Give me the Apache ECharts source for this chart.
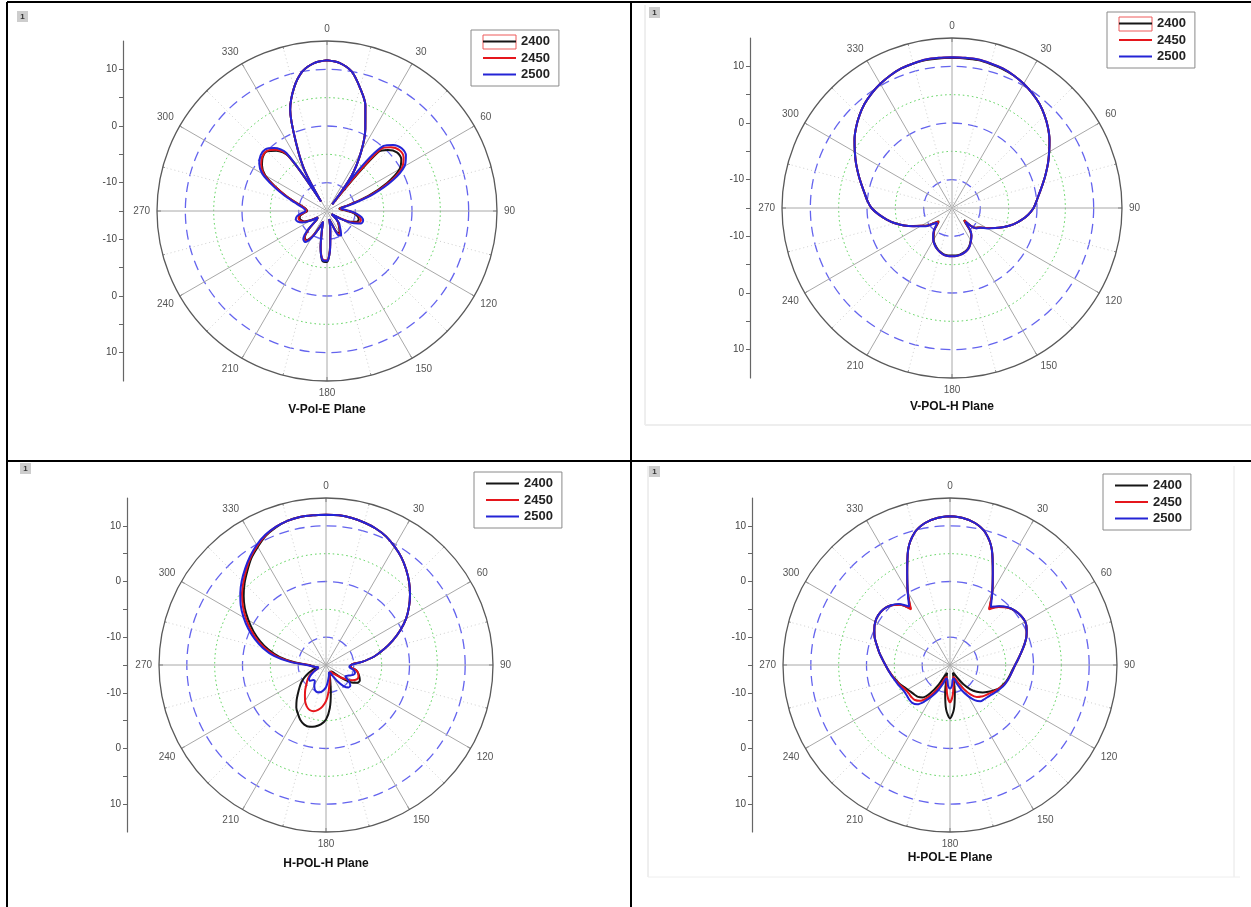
<!DOCTYPE html>
<html><head><meta charset="utf-8">
<script src="https://cdn.jsdelivr.net/npm/echarts@6/dist/echarts.min.js"></script>
<style>html,body{margin:0;padding:0;background:#fff}#c{width:1251px;height:907px}</style>
</head><body><div id="c"></div>
<script>
// ---------- data ----------
const seriesNames = ['2400', '2450', '2500'];
const angleTicks = [0, 30, 60, 90, 120, 150, 180, 210, 240, 270, 300, 330];
const radialLabels = [-10, 0, 10];

// V-Pol-E plane
const anglesVE = [0,5,10,15,20,25,30,35,38,41,45,50,55,60,65,70,75,80,85,90,95,100,105,110,115,120,125,130,135,140,145,150,155,160,165,170,175,180,185,190,195,200,205,210,215,220,225,230,235,240,245,250,255,260,265,270,275,280,285,290,295,300,305,310,315,320,325,328,331,335,340,345,350,355,360];
const ve2500 = [11.6,11.2,10.0,7.5,4.8,1.0,-3.0,-7.5, -13.5,0.2,
  1.5,2.2,2.0,0.8,-2.2,-6.3,-10.5,-12.5,-12.0,-11.0,
  -9.8,-8.8,-8.4,-8.6,-10.0,-12.5,-14.0,-13.0,-12.0,-11.5,
  -10.8,-10.0,-10.3,-12.5,-13.5,-11.5,-8.5,-6.2,-6.3,-8.5,
  -11.5,-13.0,-11.5,-9.5,-8.3,-8.5,-10.0,-12.5,-13.0,-11.5,
  -10.2,-9.5,-9.3,-9.6,-10.5,-11.2,-11.0,-10.3,-9.0,-7.0,
  -4.5,-1.8,-0.4,0.3,0.4,-0.5,-2.5, -13.0,-7.0,
  -2.5,4.0,7.5,10.0,11.2,11.6];
const ve2450 = [11.6,11.2,10.0,7.5,4.8,1.0,-3.0,-7.5, -13.5,-0.5,
  0.9,1.7,1.5,0.3,-2.7,-6.8,-11.0,-12.7,-12.2,-11.2,
  -10.0,-9.2,-8.8,-9.0,-10.3,-12.6,-14.0,-13.0,-12.2,-11.7,
  -11.0,-10.3,-10.6,-12.6,-13.5,-11.6,-8.6,-6.3,-6.4,-8.6,
  -11.6,-13.0,-11.6,-9.7,-8.6,-8.8,-10.3,-12.6,-13.0,-11.7,
  -10.5,-10.0,-9.8,-10.0,-10.8,-11.4,-11.2,-10.6,-9.3,-7.3,
  -4.9,-2.2,-0.8,-0.1,0.0,-0.9,-3.0, -13.0,-7.0,
  -2.5,4.0,7.5,10.0,11.2,11.6];
const ve2400 = [11.6,11.2,10.0,7.5,4.8,1.0,-3.0,-7.5, -13.5,-1.2,
  0.2,1.1,1.0,-0.2,-3.3,-7.3,-11.3,-12.8,-12.3,-11.4,
  -10.2,-9.5,-9.2,-9.4,-10.5,-12.7,-14.0,-13.0,-12.3,-11.8,
  -11.2,-10.5,-10.8,-12.7,-13.5,-11.8,-8.8,-6.0,-6.1,-8.5,
  -11.6,-13.0,-11.7,-9.8,-8.7,-8.9,-10.4,-12.7,-13.0,-11.8,
  -10.6,-10.2,-10.0,-10.2,-10.9,-11.5,-11.3,-10.7,-9.4,-7.4,
  -5.0,-2.4,-1.0,-0.2,-0.1,-1.1,-3.2, -13.0,-7.0,
  -2.5,4.0,7.5,10.0,11.2,11.6];

// V-POL-H plane
const anglesVH = [0,5,10,15,20,25,30,35,40,45,50,55,60,65,70,75,80,85,90,95,100,105,110,115,120,125,130,135,138,141,145,150,155,160,165,170,175,180,185,190,195,200,205,210,215,219,222,225,230,235,240,245,250,255,260,265,270,275,280,285,290,295,300,305,310,315,320,325,330,335,340,345,350,355,360];
const vh2500 = [11.6,11.6,11.6,11.4,11.2,10.8,10.3,9.7,9.0,8.1,
  7.1,6.0,4.8,3.7,2.6,1.6,0.7,0.0,-0.6,-1.5,
  -2.6,-3.8,-5.2,-6.6,-7.8,-8.9,-9.4,-11.6, -11.0,-9.8,
  -9.0,-8.3,-7.6,-7.1,-6.8,-6.6,-6.5,-6.5,-6.5,-6.6,-6.9,-7.3,-7.8,-8.4,-9.2,
  -9.9,-10.8,
  -11.3,-10.6,-9.4,-8.6,-7.4,-6.0,-4.6,-3.3,-2.0,-0.8,
  0.0,0.7,1.6,2.6,3.7,4.8,6.0,7.1,8.1,9.0,
  9.7,10.3,10.8,11.2,11.4,11.6,11.6,11.6];
const vh2450 = [11.6,11.6,11.6,11.4,11.2,10.8,10.3,9.7,9.0,8.1,
  7.1,6.0,4.8,3.7,2.6,1.6,0.7,0.0,-0.6,-1.5,
  -2.6,-3.8,-5.2,-6.6,-7.9,-9.0,-9.5,-11.9, -11.3,-9.9,
  -9.0,-8.3,-7.6,-7.1,-6.8,-6.6,-6.5,-6.5,-6.5,-6.6,-6.9,-7.3,-7.8,-8.4,-9.3,
  -10.0,-11.0,
  -11.6,-10.8,-9.5,-8.7,-7.4,-6.0,-4.6,-3.3,-2.0,-0.8,
  0.0,0.7,1.6,2.6,3.7,4.8,6.0,7.1,8.1,9.0,
  9.7,10.3,10.8,11.2,11.4,11.6,11.6,11.6];
const vh2400 = [11.5,11.5,11.5,11.3,11.1,10.8,10.3,9.7,9.0,8.1,
  7.1,6.0,4.8,3.7,2.6,1.6,0.7,0.0,-0.6,-1.5,
  -2.6,-3.8,-5.2,-6.6,-7.9,-9.0,-9.6,-12.0, -11.4,-10.0,
  -9.1,-8.4,-7.7,-7.2,-6.9,-6.7,-6.6,-6.6,-6.6,-6.7,-7.0,-7.4,-7.9,-8.5,-9.4,
  -10.1,-11.1,
  -11.7,-10.9,-9.6,-8.7,-7.5,-6.0,-4.6,-3.3,-2.0,-0.8,
  0.0,0.7,1.6,2.6,3.7,4.8,6.0,7.1,8.1,9.0,
  9.7,10.3,10.8,11.2,11.4,11.5,11.5,11.5];

// H-POL-H plane
const anglesHH = [0,5,10,15,20,25,30,35,40,45,50,55,60,65,70,75,80,85,90,95,100,105,110,115,120,125,130,135,140,145,150,155,160,165,170,175,180,185,190,195,200,205,210,215,220,225,230,235,240,245,250,255,260,265,270,275,280,285,290,295,300,305,310,315,320,325,330,335,340,345,350,355,360];
const hh2500 = [12.0,12.0,11.8,11.5,11.1,10.5,9.6,8.6,7.4,6.1,
  4.7,3.2,1.6,-0.3,-2.3,-4.3,-6.2,-8.5,-10.5,-10.8,
  -10.0,-9.6,-9.8,-10.5,-11.0,-10.0,-9.3,-9.3,-10.0,-11.5,
  -13.0,-13.5,-13.5,-13.0,-12.5,-11.8,-11.0,-10.5,-10.1,-9.9,
  -9.9,-10.2,-10.8,-11.5,-11.5,-11.0,-11.0,-11.5,-12.3,-13.0,
  -13.5,-13.5,-13.0,-12.5,-11.5,-8.5,-5.5,-3.3,-1.4,0.4,
  2.1,3.7,5.1,6.4,7.6,8.8,9.9,10.8,11.4,11.8,
  12.0,12.0,12.0];
const hh2450 = [12.0,12.0,11.8,11.5,11.1,10.5,9.6,8.6,7.4,6.1,
  4.7,3.2,1.6,-0.3,-2.3,-4.3,-6.2,-8.5,-10.5,-10.5,
  -9.5,-9.0,-8.8,-8.9,-9.5,-10.5,-11.5,-12.5,-13.0,-13.5,
  -13.5,-13.5,-13.0,-12.5,-11.5,-10.0,-8.5,-7.5,-6.8,-6.4,
  -6.4,-6.8,-7.5,-8.4,-9.2,-10.0,-10.6,-11.2,-12.0,-13.0,
  -13.5,-13.5,-13.0,-12.5,-11.8,-9.0,-6.0,-3.8,-1.9,-0.1,
  1.6,3.2,4.7,6.0,7.3,8.6,9.7,10.7,11.4,11.8,
  12.0,12.0,12.0];
const hh2400 = [12.0,12.0,11.8,11.5,11.1,10.5,9.6,8.6,7.4,6.1,
  4.7,3.2,1.6,-0.3,-2.3,-4.3,-6.2,-8.5,-10.5,-10.5,
  -9.5,-9.0,-8.6,-8.3,-8.6,-9.6,-11.5,-13.0,-13.5,-13.5,
  -13.0,-13.0,-13.0,-12.0,-10.0,-7.2,-5.2,-4.3,-3.8,-3.5,
  -3.6,-4.1,-4.9,-5.7,-6.8,-7.9,-8.8,-9.6,-10.5,-11.5,
  -12.5,-13.2,-13.0,-12.5,-12.0,-9.3,-6.5,-4.3,-2.4,-0.6,
  1.1,2.8,4.3,5.7,7.0,8.4,9.5,10.6,11.3,11.8,
  12.0,12.0,12.0];

// H-POL-E plane
const anglesHE = [0,5,10,15,20,25,30,35,40,45,50,55,60,65,70,75,80,85,90,95,100,105,110,115,120,125,130,135,140,145,150,155,160,165,170,175,180,185,190,195,200,205,210,215,220,225,230,235,240,245,250,255,260,265,270,275,280,285,290,295,300,305,310,315,320,325,330,335,340,345,350,355,360];
const he2500 = [11.7,11.5,10.9,9.6,7.0,3.2,0.2,-2.2,-1.2,-0.3,
  0.2,0.5,0.6,0.2,-0.4,-1.2,-2.0,-2.7,-3.3,-3.7,
  -4.0,-4.3,-4.6,-5.0,-5.4,-5.8,-6.1,-6.3,-6.5,-7.3,
  -8.6,-10.0,-11.5,-12.5,-12.3,-11.2,-10.8,-11.2,-12.3,-12.5,
  -11.5,-10.0,-8.5,-7.0,-5.8,-5.4,-5.4,-5.5,-5.5,-5.3,
  -5.0,-4.7,-4.3,-3.9,-3.4,-2.8,-2.1,-1.4,-0.6,0.0,
  0.5,0.7,0.6,0.1,-0.7,-2.2,0.2,3.2,7.0,9.6,
  10.9,11.5,11.7];
const he2450 = [11.7,11.5,10.9,9.6,7.0,3.2,0.2,-2.8,-1.4,-0.4,
  0.2,0.5,0.6,0.2,-0.4,-1.2,-2.0,-2.7,-3.3,-3.7,
  -4.0,-4.3,-4.7,-5.2,-5.7,-6.2,-6.6,-7.0,-7.5,-8.5,
  -10.0,-11.5,-12.5,-12.8,-11.5,-9.5,-8.3,-9.5,-11.5,-12.8,
  -12.5,-11.0,-9.3,-7.8,-6.6,-6.1,-6.0,-6.0,-5.9,-5.6,
  -5.2,-4.8,-4.4,-3.9,-3.4,-2.8,-2.1,-1.4,-0.6,0.0,
  0.5,0.7,0.6,0.1,-0.9,-2.8,0.2,3.2,7.0,9.6,
  10.9,11.5,11.7];
const he2400 = [11.7,11.5,10.9,9.6,7.0,3.2,0.2,-2.6,-1.3,-0.4,
  0.2,0.5,0.6,0.2,-0.4,-1.2,-2.0,-2.7,-3.3,-3.8,
  -4.1,-4.4,-4.8,-5.2,-5.9,-6.6,-7.3,-8.2,-9.3,-10.8,
  -12.3,-13.3,-13.5,-12.5,-10.0,-7.0,-5.4,-7.0,-10.0,-12.5,
  -13.5,-13.0,-11.0,-8.8,-7.4,-6.9,-6.7,-6.5,-6.2,-5.8,
  -5.3,-4.9,-4.4,-3.9,-3.4,-2.8,-2.1,-1.4,-0.6,0.0,
  0.5,0.7,0.6,0.1,-0.8,-2.6,0.2,3.2,7.0,9.6,
  10.9,11.5,11.7];

// ---------- layout ----------
const FONT = '"Liberation Sans", Arial, sans-serif';
const colors = ['#161616', '#e5161c', '#2424d6'];
const panels = [
  {cx: 327, cy: 211, R: 170, ax: 123, title: 'V-Pol-E Plane', ty: 410, lx: 471, ly: 30, mx: 17, my: 11, artifact: true,
   angles: anglesVE, vals: [ve2400, ve2450, ve2500]},
  {cx: 952, cy: 208, R: 170, ax: 750, title: 'V-POL-H Plane', ty: 407, lx: 1107, ly: 12, mx: 649, my: 7, artifact: true,
   angles: anglesVH, vals: [vh2400, vh2450, vh2500]},
  {cx: 326, cy: 665, R: 167, ax: 127, title: 'H-POL-H Plane', ty: 864, lx: 474, ly: 472, mx: 20, my: 463,
   angles: anglesHH, vals: [hh2400, hh2450, hh2500]},
  {cx: 950, cy: 665, R: 167, ax: 752, title: 'H-POL-E Plane', ty: 858, lx: 1103, ly: 474, mx: 649, my: 466,
   angles: anglesHE, vals: [he2400, he2450, he2500]}
];

const T = 'rgba(0,0,0,0)';
const polar = [], angleAxis = [], radiusAxis = [], grid = [], xAxis = [], yAxis = [], series = [], legend = [], graphic = [];

panels.forEach((p, i) => {
  polar.push({center: [p.cx, p.cy], radius: p.R});
  polar.push({center: [p.cx, p.cy], radius: p.R});
  const pm = 2 * i, pd = 2 * i + 1;
  angleAxis.push({
    polarIndex: pm, type: 'value', min: 0, max: 360, interval: 30, startAngle: 90, clockwise: true, z: 1,
    axisLine: {show: true, lineStyle: {color: '#5a5a5a', width: 1.3}},
    axisTick: {show: true, inside: true, length: 4, lineStyle: {color: '#5a5a5a'}},
    minorTick: {show: true, splitNumber: 2, length: 2, lineStyle: {color: '#777'}},
    axisLabel: {show: true, margin: 7, color: '#555', fontSize: 10, fontFamily: FONT,
      formatter: v => (angleTicks.indexOf(v) >= 0 ? String(v) : '')},
    splitLine: {show: true, lineStyle: {color: '#a8a8a8', width: 1}},
    minorSplitLine: {show: true, lineStyle: {color: '#cfcfcf', width: 1, type: [1, 3]}}
  });
  angleAxis.push({
    polarIndex: pd, type: 'value', min: 0, max: 360, startAngle: 90, z: 1,
    axisLine: {show: false}, axisTick: {show: false}, axisLabel: {show: false}, splitLine: {show: false}
  });
  radiusAxis.push({
    polarIndex: pm, type: 'value', min: -15, max: 15, interval: 5, z: 1,
    axisLine: {show: false}, axisTick: {show: false}, axisLabel: {show: false},
    splitLine: {show: true, lineStyle: {color: [T, '#6464ee', T, '#6464ee', T, '#6464ee', T], width: 1.3, type: [10, 6]}}
  });
  radiusAxis.push({
    polarIndex: pd, type: 'value', min: -15, max: 15, interval: 5, z: 1,
    axisLine: {show: false}, axisTick: {show: false}, axisLabel: {show: false},
    splitLine: {show: true, lineStyle: {color: [T, T, '#4fd04f', T, '#4fd04f', T, T], width: 1, type: [1.5, 3]}}
  });

  grid.push({left: p.ax, top: p.cy - p.R, width: 1, height: p.R});
  grid.push({left: p.ax, top: p.cy, width: 1, height: p.R});
  [0, 1].forEach(h => {
    const gi = 2 * i + h;
    xAxis.push({gridIndex: gi, type: 'value', show: false});
    yAxis.push({
      gridIndex: gi, type: 'value', min: -15, max: 15, inverse: h === 1, position: 'left',
      axisLine: {show: true, lineStyle: {color: '#666', width: 1.2}},
      axisTick: {show: true, length: 4, customValues: [-15, -10, -5, 0, 5, 10], lineStyle: {color: '#666'}},
      axisLabel: {show: true, customValues: radialLabels, margin: 6, color: '#444', fontSize: 10, fontFamily: FONT},
      splitLine: {show: false}
    });
  });

  seriesNames.forEach((name, k) => {
    series.push({
      name: name, type: 'line', coordinateSystem: 'polar', polarIndex: pm,
      data: p.angles.map((a, j) => [p.vals[k][j], a]),
      showSymbol: false, symbol: 'none', smooth: 0.3, z: 5 + k,
      color: colors[k], lineStyle: {color: colors[k], width: 2}, silent: true, animation: false
    });
  });

  legend.push({
    orient: 'vertical', left: p.lx, top: p.ly, data: seriesNames, icon: 'rect', itemWidth: 33, itemHeight: 2,
    itemGap: 3.5, padding: [5, 9, 5, 12], borderColor: '#8a8a8a', borderWidth: 1, selectedMode: false,
    textStyle: {fontSize: 13, fontWeight: 'bold', color: '#222', fontFamily: FONT}
  });

  graphic.push({type: 'text', x: p.cx, y: p.ty, z: 10,
    style: {text: p.title, font: 'bold 12px ' + FONT, fill: '#111', align: 'center', verticalAlign: 'middle'}});
  graphic.push({type: 'rect', shape: {x: p.mx, y: p.my, width: 11, height: 11}, style: {fill: '#cdcdcd'}});
  graphic.push({type: 'text', x: p.mx + 5.5, y: p.my + 5.5, style: {text: '1', font: 'bold 8px ' + FONT, fill: '#333', align: 'center', verticalAlign: 'middle'}});
  if (p.artifact) {
    graphic.push({type: 'rect', shape: {x: p.lx + 12, y: p.ly + 5, width: 33, height: 14},
      style: {fill: 'none', stroke: '#ee5a5a', lineWidth: 1}});
  }
});

const lines = [
  [7, 2, 1251, 2, '#000', 2], [7, 2, 7, 907, '#000', 2], [631, 2, 631, 907, '#000', 2], [7, 461, 1251, 461, '#000', 2],
  [645, 5, 645, 425, '#dedede', 1], [645, 425, 1251, 425, '#eeeeee', 2],
  [648, 466, 648, 877, '#dedede', 1], [1234, 466, 1234, 877, '#e6e6e6', 1], [648, 877, 1240, 877, '#eeeeee', 1]
];
lines.forEach(l => graphic.push({type: 'line', z: 20, shape: {x1: l[0], y1: l[1], x2: l[2], y2: l[3]}, style: {stroke: l[4], lineWidth: l[5]}}));

const chart = echarts.init(document.getElementById('c'), null, {renderer: 'canvas'});
chart.setOption({
  backgroundColor: '#fff', animation: false,
  polar, angleAxis, radiusAxis, grid, xAxis, yAxis, series, legend, graphic
});
</script></body></html>
